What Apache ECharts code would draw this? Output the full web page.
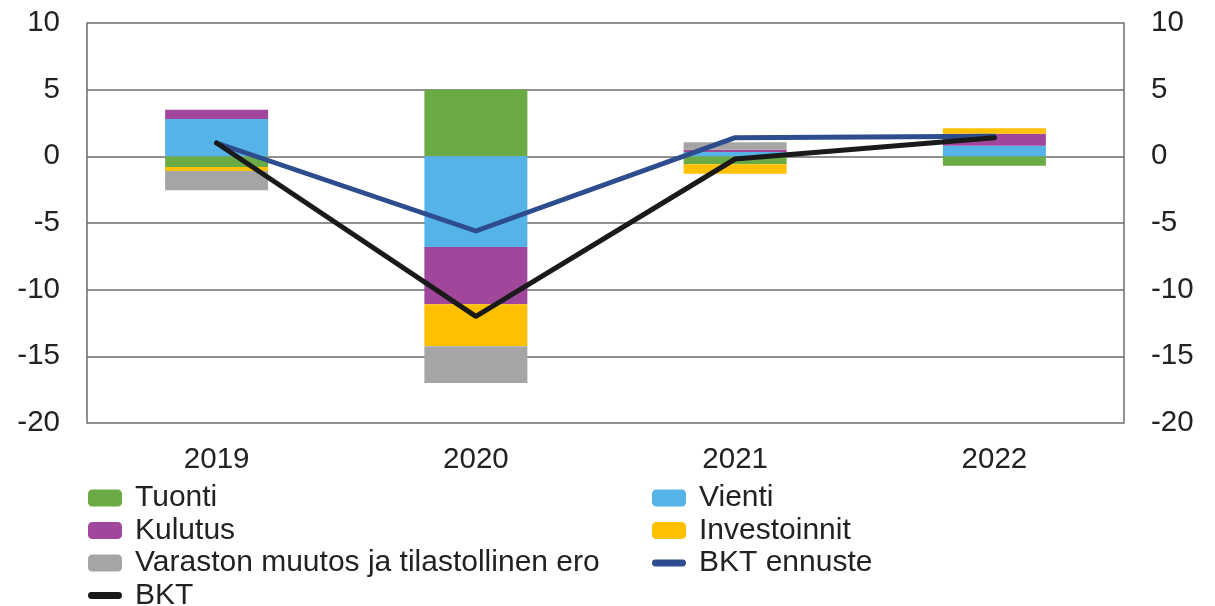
<!DOCTYPE html>
<html>
<head>
<meta charset="utf-8">
<script src="https://cdn.jsdelivr.net/npm/echarts@6/dist/echarts.min.js"></script>
<style>
  html, body { margin: 0; padding: 0; background: #fff; }
  #chart { width: 1215px; height: 606px; }
</style>
</head>
<body>
<div id="chart"></div>
<script>
// vuodet ja kasvukontribuutiot (%-yks.)
var years = ['2019', '2020', '2021', '2022'];
var tuonti = [-0.8, 5.0, -0.6, -0.7];
var vienti = [2.8, -6.8, 0.32, 0.8];
var kulutus = [0.7, -4.3, 0.18, 0.9];
var investoinnit = [-0.3, -3.15, -0.7, 0.4];
var varasto = [-1.45, -2.75, 0.55, 0];
var bktEnnuste = [1.0, -5.6, 1.4, 1.5];
var bkt = [1.0, -12.0, -0.2, 1.4];

var font = 'Liberation Sans, Arial, sans-serif';
var textColor = '#222';
var lineColor = '#6b6b6b';
// pyöreäpäinen viiva legendaan
var lineIcon = 'path://M4,0 L36,0 A4,4 0 0 1 36,8 L4,8 A4,4 0 0 1 4,0 Z';

function barSeries(name, data, color) {
    return {
        name: name,
        type: 'bar',
        stack: 'total',
        barWidth: 103,
        data: data,
        itemStyle: { color: color },
        emphasis: { disabled: true }
    };
}

function lineSeries(name, data, color) {
    return {
        name: name,
        type: 'line',
        data: data,
        symbol: 'none',
        color: color,
        lineStyle: { color: color, width: 5, cap: 'round', join: 'round' },
        z: 5
    };
}

var legendBase = {
    orient: 'vertical',
    top: 483,
    height: 130,
    itemWidth: 34,
    itemHeight: 17,
    itemGap: 2.5,
    textStyle: { fontFamily: font, fontSize: 30, color: textColor, lineHeight: 30, padding: [0, 0, 0, 8] },
    padding: 0
};

var chart = echarts.init(document.getElementById('chart'));
chart.setOption({
    animation: false,
    grid: { left: 87, right: 91, top: 23, bottom: 183 },
    legend: [
        Object.assign({}, legendBase, {
            left: 88,
            data: ['Tuonti', 'Kulutus', 'Varaston muutos ja tilastollinen ero', { name: 'BKT', icon: lineIcon }]
        }),
        Object.assign({}, legendBase, {
            left: 652,
            data: ['Vienti', 'Investoinnit', { name: 'BKT ennuste', icon: lineIcon }]
        })
    ],
    xAxis: {
        type: 'category',
        data: years,
        axisLine: { show: false },
        axisTick: { show: false },
        axisLabel: { fontFamily: font, fontSize: 29.5, color: textColor, margin: 22 }
    },
    yAxis: [
        {
            type: 'value',
            min: -20,
            max: 10,
            interval: 5,
            axisLine: { show: true, lineStyle: { color: lineColor, width: 1.5 } },
            axisTick: { show: false },
            splitLine: { show: true, lineStyle: { color: lineColor, width: 1.5 } },
            axisLabel: { fontFamily: font, fontSize: 29.5, color: textColor, margin: 27 }
        },
        {
            type: 'value',
            position: 'right',
            min: -20,
            max: 10,
            interval: 5,
            axisLine: { show: true, lineStyle: { color: lineColor, width: 1.5 } },
            axisTick: { show: false },
            splitLine: { show: false },
            axisLabel: { fontFamily: font, fontSize: 29.5, color: textColor, margin: 27 }
        }
    ],
    series: [
        barSeries('Tuonti', tuonti, '#6aab46'),
        barSeries('Vienti', vienti, '#55b3e8'),
        barSeries('Kulutus', kulutus, '#a0479c'),
        barSeries('Investoinnit', investoinnit, '#ffc000'),
        barSeries('Varaston muutos ja tilastollinen ero', varasto, '#a5a5a5'),
        lineSeries('BKT ennuste', bktEnnuste, '#2e4d8e'),
        lineSeries('BKT', bkt, '#1a1a1a')
    ]
});
</script>
</body>
</html>
